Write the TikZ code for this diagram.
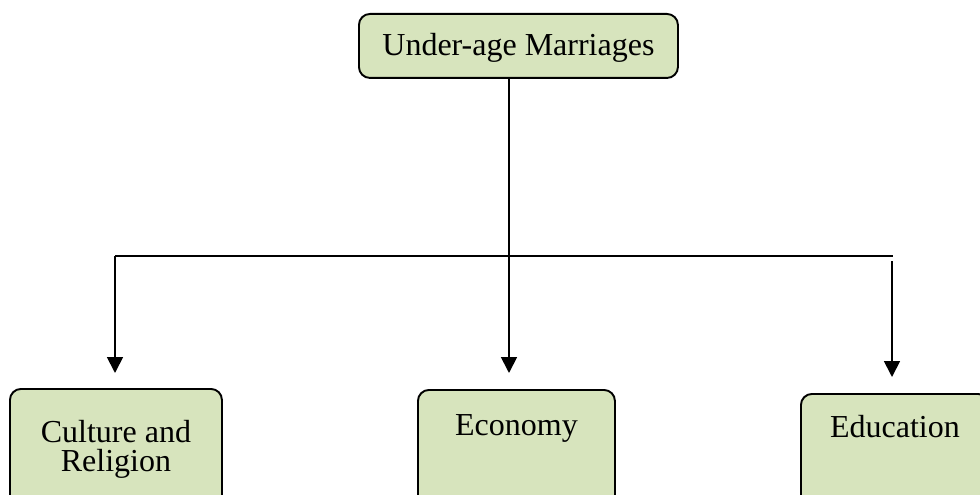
\documentclass[tikz,border=0pt]{standalone}
\usepackage{fontspec}
\setmainfont{Liberation Serif}
\usetikzlibrary{arrows.meta,calc}
\definecolor{boxgreen}{HTML}{D7E4BD}
\tikzset{
  box/.style={draw=black, line width=1.9pt, fill=boxgreen, rounded corners=11pt,
    inner sep=0pt, align=center, font=\fontsize{32}{29.5}\selectfont},
  conn/.style={line width=1.8pt},
  arr/.style={line width=1.8pt, -{Triangle[length=16pt,width=16pt]}}
}
\begin{document}
\begin{tikzpicture}[x=1pt,y=1pt]
\useasboundingbox (0,0) rectangle (980,-495);
\clip (0,0) rectangle (980,-495);
\node[box, anchor=north west, minimum width=319pt, text height=42pt, text depth=22pt] (top) at (358,-13) {Under-age Marriages};
\node[box, anchor=north west, minimum width=212pt, text height=83pt, text depth=39pt] (cult) at (9,-388) {Culture and\\Religion};
\node[box, anchor=north west, minimum width=197pt, text height=46pt, text depth=75pt] (eco) at (417,-389) {Economy};
\node[box, anchor=north west, minimum width=188pt, text height=44pt, text depth=73pt] (edu) at (800,-393) {Education};
\coordinate (jm) at (509,-256);
\coordinate (jl) at (115,-256);
\coordinate (jr) at (893,-256);
\coordinate (rs) at (892,-261);
\coordinate (tl) at (115,-373);
\coordinate (tm) at (509,-373);
\coordinate (tr) at (892,-377);
\draw[conn] (top.south -| jm) -- (jm);
\draw[conn] (jl) -- (jr);
\draw[arr] (jl) -- (tl);
\draw[arr] (jm) -- (tm);
\draw[arr] (rs) -- (tr);
\end{tikzpicture}
\end{document}
